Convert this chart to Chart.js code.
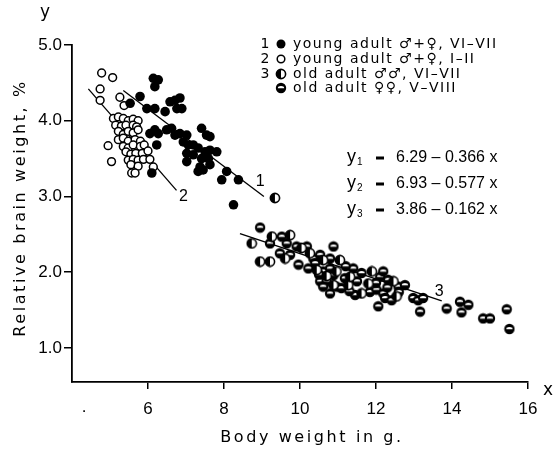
<!DOCTYPE html>
<html><head><meta charset="utf-8">
<script src="https://cdn.jsdelivr.net/npm/chart.js@4/dist/chart.umd.min.js"></script>
<style>html,body{margin:0;padding:0;background:#fff}#wrap{width:555px;height:452px}</style>
</head><body><div id="wrap"><canvas id="c" width="555" height="452"></canvas></div>
<script>
// ---- data (x = body weight g, y = relative brain weight %) ----
const youngAdultVIVII = [
 [6.14,4.56],[6.27,4.54],[6.18,4.45],[5.79,4.32],[5.53,4.23],[5.97,4.16],[6.18,4.16],[6.45,4.12],
 [6.58,4.25],[6.71,4.27],[6.84,4.30],[6.89,4.16],[6.76,4.16],[6.18,3.88],[6.27,3.83],[6.05,3.83],
 [6.23,3.68],[6.10,3.31],[6.49,3.88],[6.62,3.90],[6.71,3.81],[6.84,3.83],[7.02,3.81],[7.41,3.90],
 [7.54,3.81],[7.63,3.79],[6.93,3.72],[7.06,3.68],[7.19,3.68],[7.32,3.64],[7.50,3.59],[7.63,3.61],
 [7.81,3.59],[7.02,3.57],[7.19,3.55],[7.41,3.50],[7.59,3.50],[7.02,3.46],[7.37,3.39],[7.45,3.35],
 [7.63,3.42],[7.32,3.33],[8.07,3.33],[8.38,3.22],[7.94,3.22],[8.25,2.89]
];
const youngAdultIII = [
 [4.78,4.63],[5.07,4.57],[4.74,4.42],[4.74,4.27],[5.26,4.31],[5.37,4.20],
 [5.09,4.03],[5.22,4.05],[5.35,4.03],[5.48,4.00],[5.61,4.02],[5.74,4.00],
 [5.15,3.94],[5.30,3.93],[5.42,3.94],[5.61,3.94],[5.70,3.92],
 [5.22,3.86],[5.35,3.82],[5.48,3.86],[5.61,3.84],[5.74,3.88],
 [5.22,3.75],[5.35,3.77],[5.48,3.73],[5.66,3.75],[5.80,3.73],
 [5.35,3.66],[5.48,3.64],[5.61,3.68],[5.80,3.66],[5.90,3.68],
 [5.42,3.59],[5.55,3.56],[5.68,3.57],[5.85,3.57],[6.00,3.60],
 [5.48,3.48],[5.61,3.49],[5.74,3.48],[5.88,3.49],[6.05,3.49],
 [5.55,3.42],[5.74,3.40],[6.14,3.39],
 [4.95,3.67],[5.04,3.46],[5.57,3.31],[5.66,3.31]
];
const oldAdultMales = [
 [9.34,2.98],[8.73,2.38],[9.26,2.47],[9.74,2.49],[8.95,2.14],[9.21,2.14],[9.61,2.18],[10.04,2.32],
 [10.26,2.25],[10.61,2.16],[10.44,2.03],[10.96,2.01],[10.88,1.83],[11.05,2.16],[11.89,2.01],
 [12.46,1.88],[11.62,1.72],[12.54,1.68],[11.27,1.83],[11.32,1.94],[10.70,1.95],[11.80,1.85]
];
const oldAdultFemales = [
 [8.95,2.59],[9.21,2.38],[9.52,2.47],[9.65,2.38],[9.47,2.25],[9.74,2.23],[9.91,2.34],[10.18,2.34],
 [9.96,2.10],[10.35,2.18],[10.53,2.23],[10.79,2.18],[10.88,2.34],[10.22,2.05],[10.61,2.01],[10.79,2.05],
 [10.53,1.88],[10.70,1.88],[10.61,1.81],[10.79,1.72],[11.40,2.05],[11.62,1.99],[12.11,1.94],[12.19,2.01],
 [12.32,1.90],[12.59,1.81],[12.76,1.83],[11.45,1.70],[11.84,1.74],[12.01,1.77],[12.19,1.72],[12.24,1.66],
 [12.41,1.63],[12.06,1.55],[12.98,1.66],[13.11,1.63],[13.24,1.66],[13.16,1.48],[10.96,1.81],[11.09,1.79],
 [10.88,1.96],[11.18,1.92],[10.40,2.12],[11.20,2.08],[11.50,1.88],[12.00,1.86],[12.30,1.80],[11.30,1.75],
 [10.50,1.97],[12.60,1.74],[13.86,1.52],[14.21,1.61],[14.43,1.57],[14.25,1.47],[14.82,1.39],[15.00,1.39],
 [15.44,1.51],[15.51,1.25]
];
// regression lines (end points)
const line1 = [[5.35,4.40],[9.05,3.00]];
const line2 = [[4.43,4.42],[6.75,3.08]];
const line3 = [[8.42,2.51],[13.73,1.62]];
const lineLabels = [["1",8.95,3.20],["2",6.93,3.00],["3",13.66,1.75]];
const xTicks = [6,8,10,12,14,16];
const yTicks = [1,2,3,4,5];
const yTickLabels = ["1.0","2.0","3.0","4.0","5.0"];
const legendRows = [
 ["1","filled","young adult \u2642+\u2640, VI\u2013VII"],
 ["2","open","young adult \u2642+\u2640, I\u2013II"],
 ["3","male","old adult \u2642\u2642, VI\u2013VII"],
 ["","female","old adult \u2640\u2640, V\u2013VIII"]
];
const equations = [["1","6.29 \u2013 0.366 x"],["2","6.93 \u2013 0.577 x"],["3","3.86 \u2013 0.162 x"]];
const xTitle = "Body weight in g.";
const yTitle = "Relative brain weight, %";

// ---- markers ----
function makeMarker(kind){
  const c=document.createElement('canvas'); c.width=12; c.height=12;
  const g=c.getContext('2d'); const cx=6, cy=6, r=4.6;
  if(kind==='male'){
    g.beginPath(); g.arc(cx,cy,r,0,2*Math.PI); g.fillStyle='#fff'; g.fill();
    g.beginPath(); g.moveTo(cx,cy); g.arc(cx,cy,r,Math.PI/2,3*Math.PI/2); g.closePath(); g.fillStyle='#000'; g.fill();
    g.beginPath(); g.arc(cx,cy,r,0,2*Math.PI); g.lineWidth=1.6; g.strokeStyle='#000'; g.stroke();
  } else {
    g.beginPath(); g.arc(cx,cy,r+0.6,0,2*Math.PI); g.fillStyle='#000'; g.fill();
    g.beginPath(); g.ellipse(cx,cy+0.2,r-1.4,r-2.4,0,Math.PI,2*Math.PI); g.closePath(); g.fillStyle='#fff'; g.fill();
  }
  return c;
}
const maleMarker = makeMarker('male');
const femaleMarker = makeMarker('female');
const toXY = a => a.map(p=>({x:p[0],y:p[1]}));

function drawSymbol(ctx,kind,x,y){
  if(kind==='filled'){ctx.beginPath();ctx.arc(x,y,4.5,0,2*Math.PI);ctx.fillStyle='#000';ctx.fill();}
  else if(kind==='open'){ctx.beginPath();ctx.arc(x,y,3.8,0,2*Math.PI);ctx.fillStyle='#fff';ctx.fill();ctx.lineWidth=1.5;ctx.strokeStyle='#000';ctx.stroke();}
  else if(kind==='male'){ctx.drawImage(maleMarker,x-6,y-6);}
  else {ctx.drawImage(femaleMarker,x-6,y-6);}
}

const notes = {
  id:'notes',
  afterDraw(chart){
    const ctx=chart.ctx, xs=chart.scales.x, ys=chart.scales.y;
    ctx.save();
    ctx.fillStyle='#000';
    ctx.textBaseline='middle';
    // axis titles
    ctx.font='16px "DejaVu Sans"'; ctx.letterSpacing='2.6px'; ctx.textAlign='center';
    ctx.fillText(xTitle, 312, 438);
    ctx.save(); ctx.translate(21,208); ctx.rotate(-Math.PI/2); ctx.fillText(yTitle,0,0); ctx.restore();
    ctx.letterSpacing='0px';
    ctx.font='17px "DejaVu Sans"';
    ctx.fillText('y', 45, 13);
    ctx.fillText('x', 548, 391);
    ctx.font='17px "Liberation Sans"';
    ctx.fillText('.', 84, 407);
    // line labels
    ctx.font='16px "Liberation Sans"';
    lineLabels.forEach(l=>ctx.fillText(l[0], xs.getPixelForValue(l[1]), ys.getPixelForValue(l[2])));
    // legend
    const rowY=[44,59,74,88];
    legendRows.forEach((r,i)=>{
      const y=rowY[i];
      ctx.fillStyle='#000'; ctx.textAlign='center';
      ctx.font='14px "DejaVu Sans"'; ctx.letterSpacing='0px';
      if(r[0]) ctx.fillText(r[0], 265, y);
      drawSymbol(ctx,r[1],281,y);
      ctx.fillStyle='#000'; ctx.textAlign='left';
      ctx.font='14px "DejaVu Sans"'; ctx.letterSpacing='1.5px';
      ctx.fillText(r[2], 293, y);
    });
    ctx.letterSpacing='0px';
    // equations
    const eqY=[158,184,210];
    equations.forEach((e,i)=>{
      const y=eqY[i];
      ctx.textAlign='left';
      ctx.font='18px "Liberation Sans"'; ctx.fillText('y', 347, y-1);
      ctx.font='10px "Liberation Sans"'; ctx.fillText(e[0], 357, y+4);
      ctx.fillRect(376, y-1.5, 8, 3);
      ctx.font='16px "Liberation Sans"'; ctx.fillText(e[1], 396, y);
    });
    ctx.restore();
  }
};

const lineStyle = {showLine:true, borderColor:'#000', borderWidth:1.3, pointRadius:0, fill:false};
new Chart(document.getElementById('c'), {
  type:'scatter',
  data:{datasets:[
    {label:'1', data:toXY(youngAdultVIVII), pointStyle:'circle', pointRadius:4.8, backgroundColor:'#000', borderColor:'#000', borderWidth:0, order:1},
    {label:'2', data:toXY(youngAdultIII), pointStyle:'circle', pointRadius:3.9, backgroundColor:'#fff', borderColor:'#000', borderWidth:1.5, order:2},
    {label:'3m', data:toXY(oldAdultMales), pointStyle:maleMarker, order:3},
    {label:'3f', data:toXY(oldAdultFemales), pointStyle:femaleMarker, order:4},
    Object.assign({label:'l1', data:toXY(line1), order:5}, lineStyle),
    Object.assign({label:'l2', data:toXY(line2), order:6}, lineStyle),
    Object.assign({label:'l3', data:toXY(line3), order:7}, lineStyle)
  ]},
  options:{
    responsive:false, devicePixelRatio:1, animation:false, events:[],
    layout:{padding:{top:45,right:27,left:0,bottom:0}},
    plugins:{legend:{display:false}, tooltip:{enabled:false}},
    scales:{
      x:{type:'linear', min:4, max:16,
        afterBuildTicks:s=>{s.ticks=xTicks.map(v=>({value:v}));},
        afterFit:s=>{s.height=70;},
        ticks:{color:'#000', font:{family:'Liberation Sans', size:17}, padding:10, maxRotation:0},
        grid:{display:true, drawOnChartArea:false, drawTicks:true, tickLength:7, color:'#000', lineWidth:1.5},
        border:{display:true, color:'#000', width:1.8}
      },
      y:{type:'linear', min:0.55, max:5.0,
        afterBuildTicks:s=>{s.ticks=yTicks.map(v=>({value:v}));},
        afterFit:s=>{s.width=72;},
        ticks:{color:'#000', font:{family:'Liberation Sans', size:17}, padding:2,
          callback:(v)=>yTickLabels[yTicks.indexOf(v)]},
        grid:{display:true, drawOnChartArea:false, drawTicks:true, tickLength:8, color:'#000', lineWidth:1.5},
        border:{display:true, color:'#000', width:1.8}
      }
    }
  },
  plugins:[notes]
});
</script>
</body></html>
